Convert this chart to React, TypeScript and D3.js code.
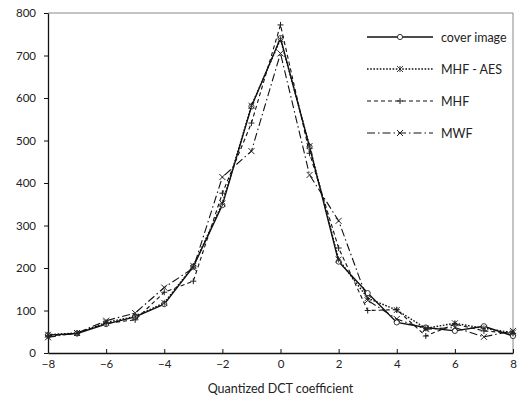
import React, { useEffect, useRef } from "react";
import * as d3 from "d3";

const coefficients = [-8, -7, -6, -5, -4, -3, -2, -1, 0, 1, 2, 3, 4, 5, 6, 7, 8];
const coverImage = [42, 46, 68, 85, 115, 203, 348, 580, 741, 485, 215, 141, 72, 60, 52, 63, 40];
const mhfAes = [43, 47, 72, 86, 118, 205, 352, 582, 738, 487, 220, 129, 101, 58, 70, 58, 48];
const mhf = [40, 46, 70, 78, 143, 169, 376, 541, 772, 470, 247, 100, 102, 40, 68, 52, 46];
const mwf = [37, 47, 76, 94, 154, 200, 414, 475, 705, 419, 311, 124, 80, 56, 60, 38, 52];
const xTicks = [-8, -6, -4, -2, 0, 2, 4, 6, 8];
const yTicks = [0, 100, 200, 300, 400, 500, 600, 700, 800];

const seriesList = [
    { name: "cover image", values: coverImage, dash: "", marker: "circle" },
    { name: "MHF - AES", values: mhfAes, dash: "1.6,1.6", marker: "asterisk" },
    { name: "MHF", values: mhf, dash: "4,3", marker: "plus" },
    { name: "MWF", values: mwf, dash: "8,3,1.5,3", marker: "cross" },
];

const FONT = "Lato, 'Open Sans', sans-serif";

const drawMarker = (g, type, x, y) => {
    const s = 3;
    if (type === "circle") {
        g.append("circle").attr("cx", x).attr("cy", y).attr("r", 2.6)
            .attr("fill", "white").attr("stroke", "#222").attr("stroke-width", 0.9);
    } else if (type === "plus") {
        g.append("path").attr("d", `M${x - s},${y}H${x + s}M${x},${y - s}V${y + s}`)
            .attr("stroke", "#222").attr("stroke-width", 1);
    } else if (type === "cross") {
        g.append("path").attr("d", `M${x - s},${y - s}L${x + s},${y + s}M${x - s},${y + s}L${x + s},${y - s}`)
            .attr("stroke", "#222").attr("stroke-width", 1);
    } else {
        g.append("path").attr("d", `M${x - s},${y - s}L${x + s},${y + s}M${x - s},${y + s}L${x + s},${y - s}M${x},${y - s}V${y + s}`)
            .attr("stroke", "#222").attr("stroke-width", 0.9);
    }
};

const App = () => {
    const svgRef = useRef(null);

    useEffect(() => {
        const svg = d3.select(svgRef.current);
        svg.selectAll("*").remove();

        const left = 48, right = 513, top = 13, bottom = 353;

        const x = d3.scaleLinear().domain([-8, 8]).range([left, right]);
        const y = d3.scaleLinear().domain([0, 800]).range([bottom, top]);

        // frame (top and right in gray)
        svg.append("path")
            .attr("d", `M${left},${top}H${right}V${bottom}`)
            .attr("fill", "none").attr("stroke", "#888").attr("stroke-width", 1);

        // y axis
        const yAxis = svg.append("g")
            .attr("transform", `translate(${left},0)`)
            .call(d3.axisLeft(y).tickValues(yTicks).tickSize(4).tickSizeOuter(0));
        yAxis.select(".domain").attr("stroke", "#111").attr("stroke-width", 1.3);
        yAxis.selectAll(".tick line").attr("stroke", "#111").attr("x2", 0).attr("x1", -4);
        yAxis.selectAll("text")
            .attr("x", -12)
            .style("font-family", FONT).style("font-size", "11.5px").attr("fill", "#222");

        // x axis
        const xAxis = svg.append("g")
            .attr("transform", `translate(0,${bottom})`)
            .call(d3.axisBottom(x).tickValues(xTicks).tickSize(4).tickSizeOuter(0));
        xAxis.select(".domain").attr("stroke", "#111").attr("stroke-width", 1.3);
        xAxis.selectAll(".tick line").attr("stroke", "#111").attr("y2", -4);
        xAxis.selectAll("text")
            .attr("y", 7)
            .style("font-family", FONT).style("font-size", "11.5px").attr("fill", "#222");

        svg.append("text")
            .attr("x", (left + right) / 2)
            .attr("y", 393)
            .attr("text-anchor", "middle")
            .style("font-family", FONT).style("font-size", "12.5px").attr("fill", "#222")
            .text("Quantized DCT coefficient");

        const line = d3.line<number>()
            .x((d, i) => x(coefficients[i]))
            .y(d => y(d));

        seriesList.forEach(s => {
            svg.append("path")
                .datum(s.values)
                .attr("d", line)
                .attr("fill", "none")
                .attr("stroke", "#111")
                .attr("stroke-width", s.marker === "circle" ? 1.4 : s.marker === "asterisk" ? 1.4 : 1.1)
                .attr("stroke-dasharray", s.dash || null);
            const mg = svg.append("g");
            s.values.forEach((v, i) => drawMarker(mg, s.marker, x(coefficients[i]), y(v)));
        });

        // legend
        const legend = svg.append("g").attr("transform", "translate(367,37)");
        seriesList.forEach((s, i) => {
            const row = legend.append("g").attr("transform", `translate(0,${i * 32})`);
            row.append("line")
                .attr("x1", 0).attr("x2", 66).attr("y1", 0).attr("y2", 0)
                .attr("stroke", "#111")
                .attr("stroke-width", s.marker === "circle" ? 1.4 : s.marker === "asterisk" ? 1.4 : 1.1)
                .attr("stroke-dasharray", s.dash || null);
            drawMarker(row, s.marker, 33, 0);
            row.append("text")
                .attr("x", 74).attr("y", 4.5)
                .style("font-family", FONT).style("font-size", "12.5px").attr("fill", "#222")
                .text(s.name);
        });
    }, []);

    return (
        <svg ref={svgRef} width={517} height={400}
            style={{ position: "absolute", left: 0, top: 0, background: "white" }}></svg>
    );
};

export default App;
